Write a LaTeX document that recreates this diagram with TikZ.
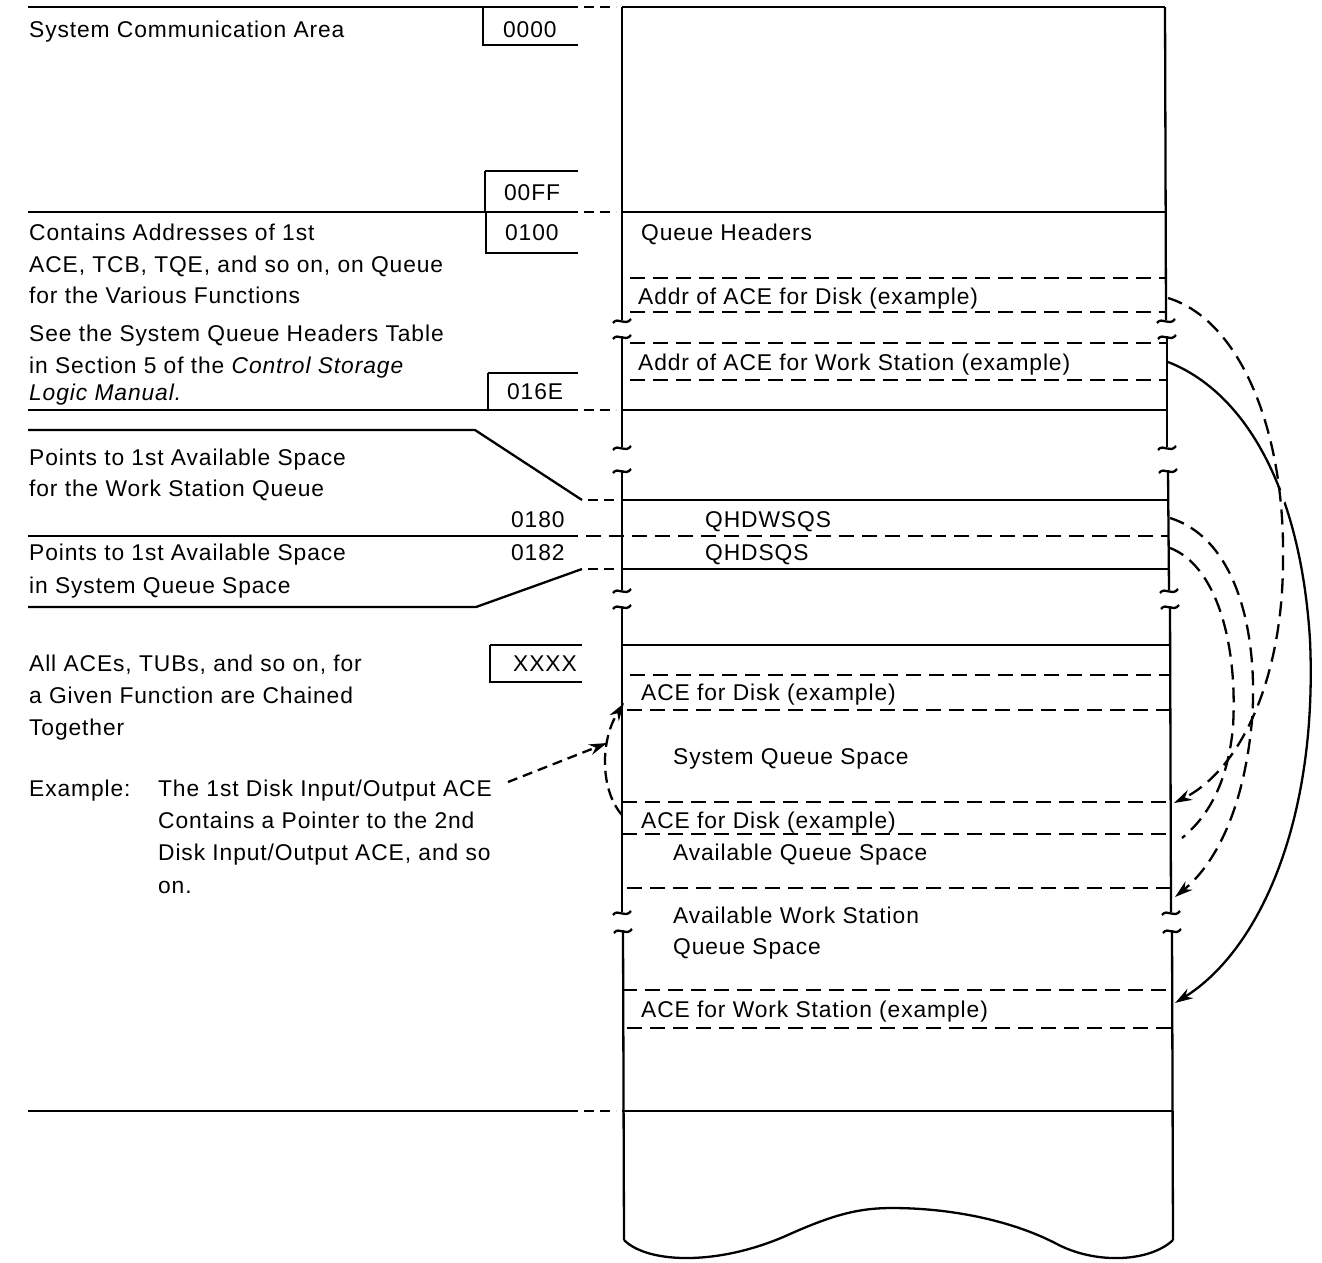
\documentclass[tikz,border=0pt]{standalone}
\usepackage{fontspec}
\setmainfont{Liberation Sans}[LetterSpace=4]
\usetikzlibrary{arrows.meta}
\begin{document}
\begin{tikzpicture}[x=1pt,y=-1pt,line width=2.3pt,
  txt/.style={font=\fontsize{22.8}{26}\selectfont,inner sep=0pt,anchor=base west},
  dline/.style={dash pattern=on 15pt off 8pt},
  sdash/.style={dash pattern=on 10pt off 6pt},
  tip/.style={-{Stealth[length=18pt,width=11pt]}},
  brk/.pic={\draw[line width=2.3pt] (-9,3) .. controls (-4,-4) and (3,7) .. (9,-1);}
]
\useasboundingbox (0,0) rectangle (1322,1262);
% ---------- left column text ----------
\node[txt] (t1) at (28,37) {System Communication Area};
\node[txt] (t2) at (28,240) {Contains Addresses of 1st};
\node[txt] (t3) at (28,272) {ACE, TCB, TQE, and so on, on Queue};
\node[txt] (t4) at (28,303) {for the Various Functions};
\node[txt] (t5) at (28,341) {See the System Queue Headers Table};
\node[txt] (t6) at (28,373) {in Section 5 of the \textit{Control Storage}};
\node[txt] (t7) at (28,400) {\textit{Logic Manual.}};
\node[txt] (t8) at (28,465) {Points to 1st Available Space};
\node[txt] (t9) at (28,496) {for the Work Station Queue};
\node[txt] (t10) at (28,560) {Points to 1st Available Space};
\node[txt] (t11) at (28,593) {in System Queue Space};
\node[txt] (t12) at (28,671) {All ACEs, TUBs, and so on, for};
\node[txt] (t13) at (28,703) {a Given Function are Chained};
\node[txt] (t14) at (28,735) {Together};
\node[txt] (t15) at (28,796) {Example:};
\node[txt] (ex1) at (157,796) {The 1st Disk Input/Output ACE};
\node[txt] (ex2) at (157,828) {Contains a Pointer to the 2nd};
\node[txt] (ex3) at (157,860) {Disk Input/Output ACE, and so};
\node[txt] (ex4) at (157,893) {on.};
% addresses
\node[txt] (a0) at (502,37) {0000};
\node[txt] (a1) at (503,200) {00FF};
\node[txt] (a2) at (504,240) {0100};
\node[txt] (a3) at (506,399) {016E};
\node[txt] (a4) at (510,527) {0180};
\node[txt] (a5) at (510,560) {0182};
\node[txt] (a6) at (512,671) {XXXX};
% ---------- right column text ----------
\node[txt] (r1) at (640,240) {Queue Headers};
\node[txt] (r2) at (637,304) {Addr of ACE for Disk (example)};
\node[txt] (r3) at (637,370) {Addr of ACE for Work Station (example)};
\node[txt] (r4) at (704,527) {QHDWSQS};
\node[txt] (r5) at (704,560) {QHDSQS};
\node[txt] (r6) at (640,700) {ACE for Disk (example)};
\node[txt] (r7) at (672,764) {System Queue Space};
\node[txt] (r8) at (640,828) {ACE for Disk (example)};
\node[txt] (r9) at (672,860) {Available Queue Space};
\node[txt] (r10) at (672,923) {Available Work Station};
\node[txt] (r11) at (672,954) {Queue Space};
\node[txt] (r12) at (640,1017) {ACE for Work Station (example)};
% ---------- left column lines ----------
\draw (28,7) -- (578,7);  \draw[sdash] (584,7) -- (616,7);
\draw (483,7) -- (483,45) -- (578,45);
\draw (485,171) -- (578,171); \draw (485,171) -- (485,212);
\draw (28,212) -- (578,212); \draw[sdash] (584,212) -- (616,212);
\draw (486,212) -- (486,253) -- (578,253);
\draw (488,373) -- (578,373); \draw (488,373) -- (488,410);
\draw (28,410) -- (578,410); \draw[sdash] (584,410) -- (616,410);
\draw (28,430) -- (475,430) -- (582,500); \draw[sdash] (588,500) -- (616,500);
\draw (28,536) -- (578,536);
\draw (582,569) -- (476,607) -- (28,607); \draw[sdash] (588,569) -- (616,569);
\draw (490,645) -- (582,645); \draw (490,645) -- (490,682) -- (582,682);
\draw (28,1111) -- (578,1111); \draw[sdash] (584,1111) -- (616,1111);
% ---------- right column frame ----------
\draw (622,7) -- (1165,7);
\draw (622,7) -- (622,320) pic at (622,320) {brk};
\draw (622,336) -- (622,447) pic at (622,336) {brk} pic at (622,447) {brk};
\draw (622,470) -- (622,590) pic at (622,470) {brk} pic at (622,590) {brk};
\draw (622,606) -- (622,912) pic at (622,606) {brk} pic at (622,912) {brk};
\draw (623,930) -- (624,1240) pic at (623,930) {brk};
\draw (1165,7) -- (1166,320) pic at (1166,320) {brk};
\draw (1167,336) -- (1167,447) pic at (1167,336) {brk} pic at (1167,447) {brk};
\draw (1168,470) -- (1169,590) pic at (1168,470) {brk} pic at (1169,590) {brk};
\draw (1170,606) -- (1171,912) pic at (1170,606) {brk} pic at (1171,912) {brk};
\draw (1172,930) -- (1173,1240) pic at (1172,930) {brk};
% bottom edge
\draw (624,1240) .. controls (648,1264) and (720,1266) .. (790,1234)
  .. controls (835,1214) and (860,1208) .. (892,1208)
  .. controls (950,1208) and (1010,1220) .. (1055,1243)
  .. controls (1095,1265) and (1150,1262) .. (1173,1240);
% horizontals in right column
\draw (622,212) -- (1165,212);
\draw[dline] (630,278) -- (1166,278);
\draw[dline] (630,312) -- (1166,312);
\draw[dline] (630,343) -- (1167,343);
\draw[dline] (630,380) -- (1167,380);
\draw (622,410) -- (1167,410);
\draw (622,500) -- (1168,500);
\draw[dline] (586,536) -- (1168,536);
\draw (622,569) -- (1169,569);
\draw (622,645) -- (1169,645);
\draw[dline] (630,675) -- (1169,675);
\draw[dline] (627,710) -- (1169,710);
\draw[dline] (622,802) -- (1170,802);
\draw[dline] (622,834) -- (1170,834);
\draw[dline] (627,888) -- (1171,888);
\draw[dline] (622,990) -- (1172,990);
\draw[dline] (627,1028) -- (1172,1028);
\draw (622,1111) -- (1173,1111);
% ---------- connectors ----------
\coordinate (sD) at (1168,298);
\coordinate (eD) at (1174,803);
\coordinate (sW) at (1168,362);
\coordinate (eW) at (1175,1003);
\coordinate (sQ1) at (1170,518);
\coordinate (eQ1) at (1175,897);
\coordinate (sQ2) at (1170,548);
\coordinate (eQ2) at (1182,838);
\coordinate (sX) at (508,782);
\coordinate (eX) at (607,743);
\coordinate (sY) at (622,815);
\coordinate (eY) at (624,703);
\draw[tip] (sW) .. controls (1240,390) and (1300,480) .. (1310,640)
  .. controls (1318,820) and (1260,950) .. (eW);
\fill[white] (1280,497) circle (7);
\draw[dline,tip] (sQ1) .. controls (1240,540) and (1258,640) .. (1252,720)
  .. controls (1245,800) and (1220,860) .. (eQ1);
\draw[dline] (sQ2) .. controls (1215,565) and (1238,640) .. (1233,727)
  .. controls (1228,780) and (1210,815) .. (eQ2);
\draw[dline,tip] (sD) .. controls (1240,320) and (1285,430) .. (1283,560)
  .. controls (1283,680) and (1240,770) .. (eD);
\draw[sdash,tip] (sX) -- (eX);
\draw[dash pattern=on 12pt off 6pt,tip] (sY) .. controls (600,790) and (600,740) .. (eY);
\end{tikzpicture}
\end{document}
